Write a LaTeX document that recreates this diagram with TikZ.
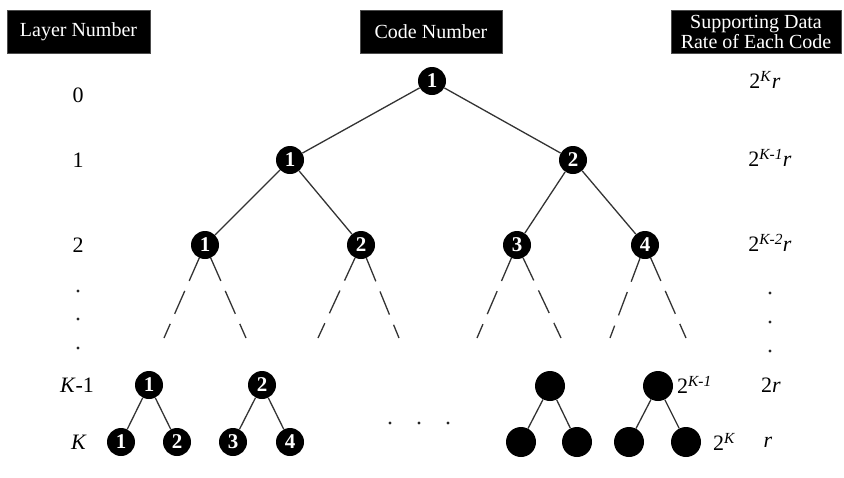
\documentclass[tikz,border=0pt]{standalone}
\usepackage{fontspec}
\setmainfont{Liberation Serif}
\begin{document}
\begin{tikzpicture}[x=1pt,y=-1pt,
  hdr/.style={fill=black,draw=black!70,text=white,inner sep=0pt,minimum height=43pt,align=center,font=\fontsize{20}{22}\selectfont},
  code/.style={circle,fill=black,text=white,inner sep=0pt,minimum size=28pt,font=\bfseries\fontsize{21}{21}\selectfont},
  blank/.style={circle,fill=black,inner sep=0pt,minimum size=30pt},
  lbl/.style={font=\fontsize{22}{22}\selectfont,inner sep=0pt},
  edge/.style={draw=black!80,line width=1.3pt},
  dedge/.style={draw=black!80,line width=1.3pt,dash pattern=on 25pt off 11pt},
  dotn/.style={circle,fill=black!85,inner sep=0pt,minimum size=3.2pt}
]
\useasboundingbox (0,0) rectangle (844,477);
% headers
\node[hdr,minimum width=143pt] (h1) at (78.5,31.5) {Layer Number};
\node[hdr,minimum width=142pt] (h2) at (431,31.5) {Code Number};
\node[hdr,minimum width=170pt] (h3) at (756,31.5) {Supporting Data\\[-2pt]Rate of Each Code};
% layer numbers
\node[lbl] (l0) at (78,95) {0};
\node[lbl] (l1) at (78,160) {1};
\node[lbl] (l2) at (78,245) {2};
\node[dotn] (ld1) at (78,291) {};
\node[dotn] (ld2) at (78,319) {};
\node[dotn] (ld3) at (78,348) {};
\node[lbl] (lk1) at (77,385) {\textit{K}-1};
\node[lbl] (lk) at (79,442) {\textit{K}};
% rates
\node[lbl] (r0) at (765,80) {2\textsuperscript{\textit{K}}\textit{r}};
\node[lbl] (r1) at (770,158) {2\textsuperscript{\textit{K-1}}\textit{r}};
\node[lbl] (r2) at (770,243) {2\textsuperscript{\textit{K-2}}\textit{r}};
\node[dotn] (rd1) at (770,293) {};
\node[dotn] (rd2) at (770,322) {};
\node[dotn] (rd3) at (770,351) {};
\node[lbl] (rk1) at (771,385) {2\textit{r}};
\node[lbl] (rk) at (768,442) {\textit{r}};
% tree
\node[code] (a) at (432,81) {1};
\node[code] (b1) at (290,160) {1};
\node[code] (b2) at (573,160) {2};
\node[code] (c1) at (205,245) {1};
\node[code] (c2) at (361,245) {2};
\node[code] (c3) at (517,245) {3};
\node[code] (c4) at (645,245) {4};
\draw[edge] (a) -- (b1);
\draw[edge] (a) -- (b2);
\draw[edge] (b1) -- (c1);
\draw[edge] (b1) -- (c2);
\draw[edge] (b2) -- (c3);
\draw[edge] (b2) -- (c4);
% dashed continuations
\coordinate (e1l) at (164,338); \coordinate (e1r) at (246,338);
\coordinate (e2l) at (318,338); \coordinate (e2r) at (399,338);
\coordinate (e3l) at (477,338); \coordinate (e3r) at (561,338);
\coordinate (e4l) at (610,338); \coordinate (e4r) at (686,338);
\foreach \n in {1,2,3,4}{
  \draw[dedge] (c\n) -- (e\n l);
  \draw[dedge] (c\n) -- (e\n r);
}
% bottom layers
\node[code] (k1) at (149,385) {1};
\node[code] (k2) at (262,385) {2};
\node[blank] (k3) at (550,386) {};
\node[blank] (k4) at (658,386) {};
\node[code] (m1) at (121,442) {1};
\node[code] (m2) at (177,442) {2};
\node[code] (m3) at (233,442) {3};
\node[code] (m4) at (290,442) {4};
\node[blank] (m5) at (521,442) {};
\node[blank] (m6) at (577,442) {};
\node[blank] (m7) at (629,442) {};
\node[blank] (m8) at (686,442) {};
\draw[edge] (k1) -- (m1);
\draw[edge] (k1) -- (m2);
\draw[edge] (k2) -- (m3);
\draw[edge] (k2) -- (m4);
\draw[edge] (k3) -- (m5);
\draw[edge] (k3) -- (m6);
\draw[edge] (k4) -- (m7);
\draw[edge] (k4) -- (m8);
\node[lbl,anchor=west] (q1) at (677,385) {2\textsuperscript{\textit{K-1}}};
\node[lbl,anchor=west] (q2) at (713,442) {2\textsuperscript{\textit{K}}};
% horizontal dots
\node[dotn] (hd1) at (390,423) {};
\node[dotn] (hd2) at (419,423) {};
\node[dotn] (hd3) at (448,423) {};
\end{tikzpicture}
\end{document}
